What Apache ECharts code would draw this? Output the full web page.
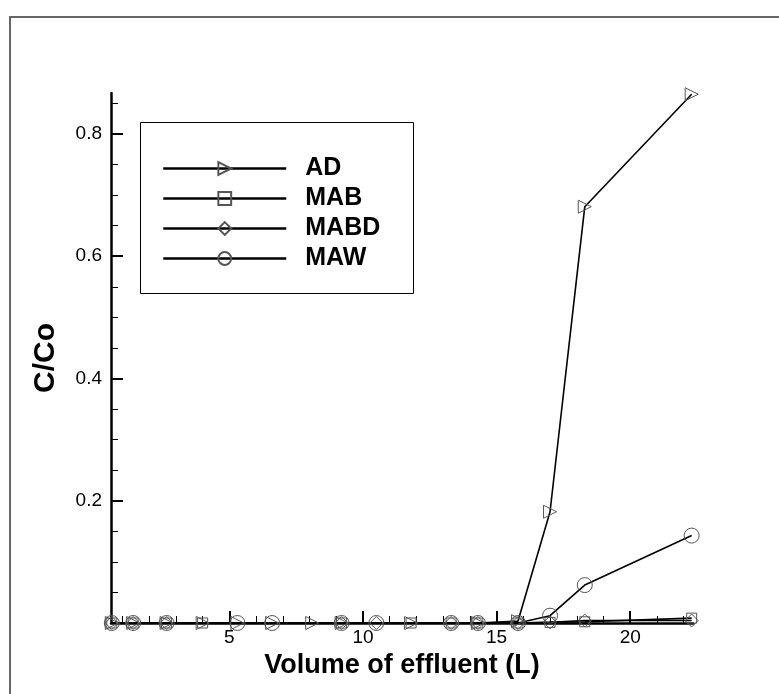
<!DOCTYPE html>
<html>
<head>
<meta charset="utf-8">
<script src="https://cdn.jsdelivr.net/npm/echarts@6/dist/echarts.min.js"></script>
<style>
  html, body { margin: 0; padding: 0; background: #fff; }
  #chart { width: 779px; height: 694px; }
</style>
</head>
<body>
<div id="chart"></div>
<script>
// series data
const seriesNames = ['AD', 'MAB', 'MABD', 'MAW']

const adX = [0.6, 1.4, 2.65, 4.0, 5.3, 6.6, 8.1, 9.2, 11.8, 14.3, 15.8, 17.0, 18.3, 22.3]
const adY = [0, 0, 0, 0, 0, 0, 0, 0, 0, 0, 0.003, 0.182, 0.681, 0.865]

const mabX = [0.6, 1.4, 2.65, 4.0, 9.2, 11.8, 13.3, 14.3, 15.8, 17.0, 18.3, 22.3]
const mabY = [0, 0, 0, 0, 0, 0, 0, 0, 0, 0.001, 0.002, 0.008]

const mabdX = [0.6, 1.4, 2.65, 9.2, 10.5, 13.3, 14.3, 15.8, 17.0, 18.3, 22.3]
const mabdY = [0, 0, 0, 0, 0, 0, 0, 0, 0.001, 0.004, 0.004]

const mawX = [0.6, 1.4, 2.65, 5.3, 6.6, 9.2, 10.5, 13.3, 14.3, 15.8, 17.0, 18.3, 22.3]
const mawY = [0, 0, 0, 0, 0, 0, 0, 0, 0, 0, 0.012, 0.062, 0.143]

// tick labels
const xMajorTicks = [5, 10, 15, 20]
const xMinorTicks = [1, 2, 3, 4, 5, 6, 7, 8, 9, 10, 11, 12, 13, 14, 15, 16, 17, 18, 19, 20, 21, 22]
const yMajorTicks = [0.2, 0.4, 0.6, 0.8]
const yMinorTicks = [0.05, 0.1, 0.15, 0.25, 0.3, 0.35, 0.45, 0.5, 0.55, 0.65, 0.7, 0.75, 0.85]

const X_MIN = 0.57, X_MAX = 22.35
const Y_MIN = 0, Y_MAX = 0.867

const FONT = '"Liberation Sans", Arial, sans-serif'
const symbols = { AD: 'triangle', MAB: 'rect', MABD: 'diamond', MAW: 'circle' }
const symbolSizes = { AD: 13, MAB: 10, MABD: 13, MAW: 15 }
const symbolRotates = { AD: -90, MAB: 0, MABD: 0, MAW: 0 }
const xs = { AD: adX, MAB: mabX, MABD: mabdX, MAW: mawX }
const ys = { AD: adY, MAB: mabY, MABD: mabdY, MAW: mawY }

const chart = echarts.init(document.getElementById('chart'), null, { renderer: 'canvas' })

const makeSeries = name => ({
  name,
  type: 'line',
  xAxisIndex: 0,
  yAxisIndex: 0,
  data: xs[name].map((x, i) => [x, ys[name][i]]),
  symbol: symbols[name],
  symbolSize: symbolSizes[name],
  symbolRotate: symbolRotates[name],
  showAllSymbol: true,
  lineStyle: { color: '#000', width: 1.6 },
  itemStyle: { color: 'rgba(255,255,255,0)', borderColor: '#555', borderWidth: 1 },
  emphasis: { disabled: true },
  clip: false
})

const option = {
  animation: false,
  backgroundColor: '#fff',
  grid: { left: 111, right: 86, top: 93, bottom: 71 },
  legend: {
    orient: 'vertical',
    left: 157,
    top: 151,
    data: seriesNames,
    itemWidth: 123,
    itemHeight: 16,
    itemGap: 5,
    lineStyle: { color: '#000', width: 2.5 },
    textStyle: {
      fontFamily: FONT, fontWeight: 'bold', fontSize: 25, color: '#000',
      lineHeight: 24, padding: [0, 0, 0, 14]
    },
    selectedMode: false
  },
  xAxis: [
    {
      type: 'value',
      min: X_MIN, max: X_MAX,
      name: 'Volume of effluent (L)',
      nameLocation: 'center',
      nameGap: 22,
      nameTextStyle: { fontFamily: FONT, fontWeight: 'bold', fontSize: 27, color: '#000' },
      axisLine: { show: true, onZero: false, lineStyle: { color: '#000', width: 2.5 } },
      axisTick: { show: true, inside: true, length: 12, customValues: xMajorTicks, lineStyle: { color: '#000', width: 2 } },
      axisLabel: { customValues: xMajorTicks, margin: 5, fontFamily: FONT, fontSize: 19, color: '#000' },
      splitLine: { show: false }
    },
    {
      type: 'value',
      min: X_MIN, max: X_MAX,
      position: 'bottom',
      axisLine: { show: false },
      axisTick: { show: true, inside: true, length: 7, customValues: xMinorTicks, lineStyle: { color: '#000', width: 1 } },
      axisLabel: { show: false },
      splitLine: { show: false }
    }
  ],
  yAxis: [
    {
      type: 'value',
      min: Y_MIN, max: Y_MAX,
      name: 'C/Co',
      nameLocation: 'center',
      nameGap: 50,
      nameRotate: 90,
      nameTextStyle: { fontFamily: FONT, fontWeight: 'bold', fontSize: 30, color: '#000' },
      axisLine: { show: true, onZero: false, lineStyle: { color: '#000', width: 2.5 } },
      axisTick: { show: true, inside: true, length: 12, customValues: yMajorTicks, lineStyle: { color: '#000', width: 2 } },
      axisLabel: { customValues: yMajorTicks, margin: 9, fontFamily: FONT, fontSize: 19, color: '#000' },
      splitLine: { show: false }
    },
    {
      type: 'value',
      min: Y_MIN, max: Y_MAX,
      position: 'left',
      axisLine: { show: false },
      axisTick: { show: true, inside: true, length: 7, customValues: yMinorTicks, lineStyle: { color: '#000', width: 1 } },
      axisLabel: { show: false },
      splitLine: { show: false }
    }
  ],
  series: seriesNames.map(makeSeries),
  graphic: [
    // outer frame, only its top and left edges are inside the picture
    { type: 'polyline', shape: { points: [[10, 700], [10, 17], [790, 17]] }, style: { fill: 'none', stroke: '#666', lineWidth: 2 }, silent: true },
    // legend box
    { type: 'rect', shape: { x: 140.5, y: 122.5, width: 273, height: 171 }, style: { fill: 'none', stroke: '#000', lineWidth: 1 }, silent: true, z: 10 }
  ]
}

chart.setOption(option)
</script>
</body>
</html>
